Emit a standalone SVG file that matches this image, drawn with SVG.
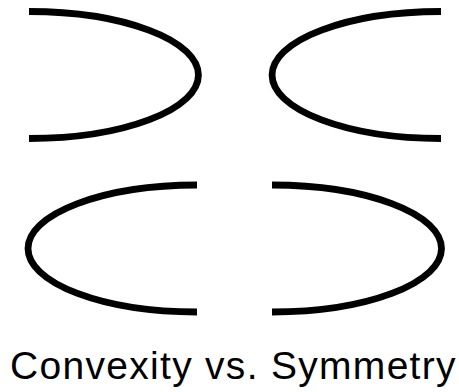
<svg xmlns="http://www.w3.org/2000/svg" width="459" height="392" viewBox="0 0 459 392">
<style>
.c{fill:none;stroke:#000;stroke-width:6.8}
.t{font-family:"Liberation Sans",Arial,sans-serif;font-size:39px;fill:#000;letter-spacing:1.3px}
</style>
<rect width="459" height="392" fill="#fff"/>
<g id="top-left"><path class="c" d="M29,11.5 A169.5,63.5 0 0 1 29,138.5"/></g>
<g id="top-right"><path class="c" d="M441,11.5 A169,63.5 0 0 0 441,138.5"/></g>
<g id="bottom-left"><path class="c" d="M197,185 A169,63.5 0 0 0 197,312"/></g>
<g id="bottom-right"><path class="c" d="M272,185 A169.5,63.5 0 0 1 272,312"/></g>
<text class="t" x="10" y="379">Convexity vs. Symmetry</text>
</svg>
